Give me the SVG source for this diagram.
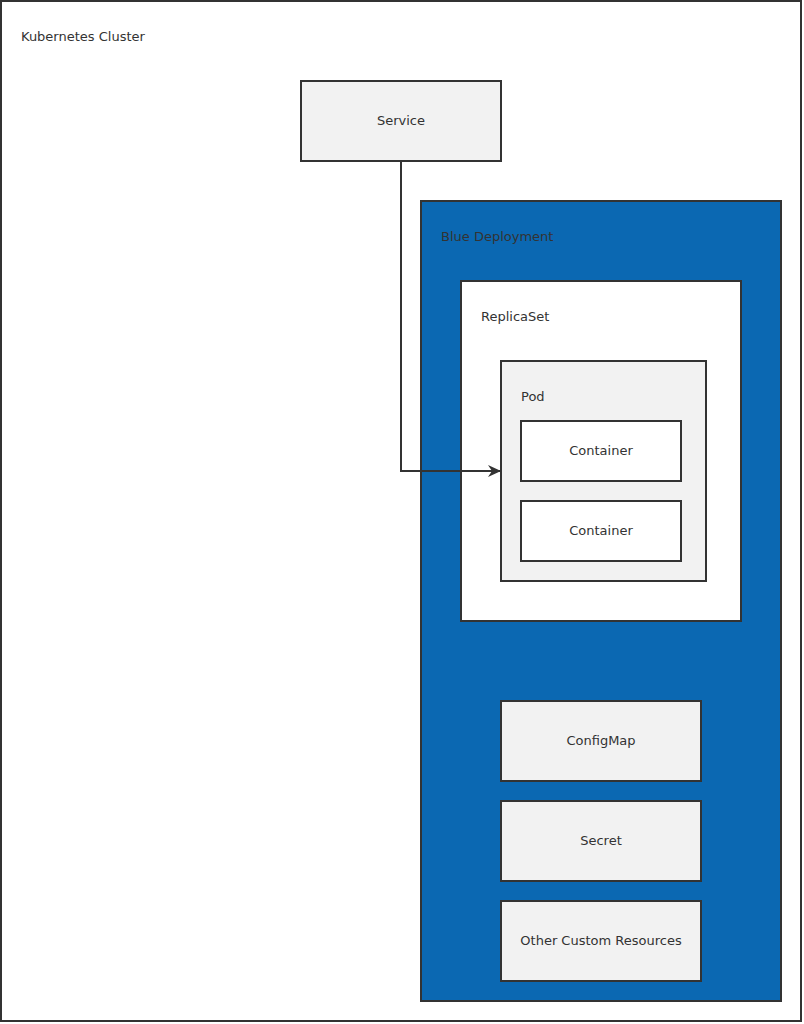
<svg xmlns="http://www.w3.org/2000/svg" width="804" height="1024" viewBox="0 0 804 1024">
<defs>
<style>
.box{fill:#f2f2f2;stroke:#333;stroke-width:2}
.white{fill:#fff;stroke:#333;stroke-width:2}
.blue{fill:#0b68b2;stroke:#333;stroke-width:2}
text{font-family:"DejaVu Sans",sans-serif;font-size:13px;fill:#333}
.c{text-anchor:middle;dominant-baseline:central}
.edge{fill:none;stroke:#333;stroke-width:2}
</style>
<marker id="arr" markerWidth="14" markerHeight="14" refX="13" refY="7" orient="auto" markerUnits="userSpaceOnUse">
<path d="M0,1 L13,7 L0,13 L4,7 Z" fill="#333"/>
</marker>
</defs>
<rect width="804" height="1024" fill="#fff"/>
<g id="cluster">
<rect class="white" x="1" y="1" width="800" height="1020"/>
<text x="21" y="41">Kubernetes Cluster</text>
</g>
<g id="service">
<rect class="box" x="301" y="81" width="200" height="80"/>
<text class="c" x="401" y="120">Service</text>
</g>
<g id="deployment">
<rect class="blue" x="421" y="201" width="360" height="800"/>
<text x="441" y="241">Blue Deployment</text>
</g>
<g id="replicaset">
<rect class="white" x="461" y="281" width="280" height="340"/>
<text x="481" y="321">ReplicaSet</text>
</g>
<g id="pod">
<rect class="box" x="501" y="361" width="205" height="220"/>
<text x="521" y="401">Pod</text>
</g>
<g id="container1">
<rect class="white" x="521" y="421" width="160" height="60"/>
<text class="c" x="601" y="450">Container</text>
</g>
<g id="container2">
<rect class="white" x="521" y="501" width="160" height="60"/>
<text class="c" x="601" y="530">Container</text>
</g>
<g id="configmap">
<rect class="box" x="501" y="701" width="200" height="80"/>
<text class="c" x="601" y="740">ConfigMap</text>
</g>
<g id="secret">
<rect class="box" x="501" y="801" width="200" height="80"/>
<text class="c" x="601" y="840">Secret</text>
</g>
<g id="other">
<rect class="box" x="501" y="901" width="200" height="80"/>
<text class="c" x="601" y="940">Other Custom Resources</text>
</g>
<g id="connectors">
<path class="edge" d="M401,161 V471 H501" marker-end="url(#arr)"/>
</g>
</svg>
